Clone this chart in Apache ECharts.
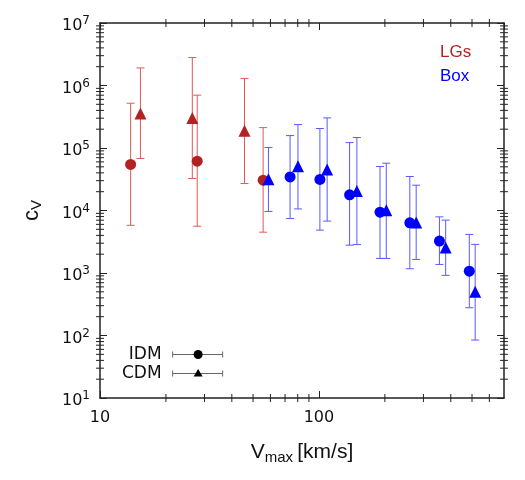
<!DOCTYPE html>
<html>
<head>
<meta charset="utf-8">
<script src="https://cdn.jsdelivr.net/npm/echarts@6/dist/echarts.min.js"></script>
<style>
  html, body { margin: 0; padding: 0; background: #fff; }
  #chart { width: 525px; height: 480px; }
</style>
</head>
<body>
<div id="chart"></div>
<script>
// LGs, IDM (circles)
const lgIdmV = [13.8, 27.8, 55.6];
const lgIdmC = [54500, 61500, 30500];
const lgIdmLo = [5800, 5600, 4500];
const lgIdmHi = [520000, 700000, 212000];
// LGs, CDM (triangles)
const lgCdmV = [15.3, 26.4, 45.7];
const lgCdmC = [356000, 303000, 188000];
const lgCdmLo = [68000, 32500, 27000];
const lgCdmHi = [1910000, 2800000, 1290000];
// Box, IDM (circles)
const boxIdmV = [73.8, 101, 138, 190, 260, 355, 486];
const boxIdmC = [34500, 31400, 17800, 9400, 6350, 3240, 1070];
const boxIdmLo = [7460, 4850, 2790, 1710, 1170, 1370, 278];
const boxIdmHi = [158000, 205000, 122000, 50600, 35000, 7910, 4140];
// Box, CDM (triangles)
const boxCdmV = [58.8, 80.2, 109, 149, 203, 278, 379, 517];
const boxCdmC = [31700, 51200, 45300, 20600, 10100, 6440, 2570, 501];
const boxCdmLo = [9660, 10600, 6760, 2850, 1710, 1650, 916, 84.6];
const boxCdmHi = [102000, 237000, 303000, 147000, 57100, 25400, 7010, 2870];

// axis ranges and minor tick positions
const xRange = [10, 700];
const yRange = [10, 1e7];
const xMinor = [20, 30, 40, 50, 60, 70, 80, 90, 200, 300, 400, 500, 600];
const yMantissa = [2, 3, 4, 5, 6, 7, 8, 9];
const yDecades = [10, 100, 1000, 10000, 100000, 1000000];
const yMinor = [];
yDecades.forEach(d => yMantissa.forEach(m => yMinor.push(m * d)));

const RED = '#b22222', RED_BAR = '#dc5a5a';
const BLUE = '#0000ff', BLUE_BAR = '#5a5aff';
const AXIS = '#222';

const chart = echarts.init(document.getElementById('chart'));

function pts(v, c) { return v.map((x, i) => [x, c[i]]); }
function bars(v, c, lo, hi) { return v.map((x, i) => [x, c[i], lo[i], hi[i]]); }

function errorBar(color) {
  return function (params, api) {
    const lo = api.coord([api.value(0), api.value(2)]);
    const hi = api.coord([api.value(0), api.value(3)]);
    const w = 4;
    const style = { stroke: color, lineWidth: 1 };
    return {
      type: 'group',
      children: [
        { type: 'line', shape: { x1: lo[0], y1: lo[1], x2: hi[0], y2: hi[1] }, style },
        { type: 'line', shape: { x1: lo[0] - w, y1: lo[1], x2: lo[0] + w, y2: lo[1] }, style },
        { type: 'line', shape: { x1: hi[0] - w, y1: hi[1], x2: hi[0] + w, y2: hi[1] }, style }
      ]
    };
  };
}

// minor ticks drawn as thin rect symbols sitting on the frame edges
function minorTicks(data, size, offset) {
  return {
    type: 'scatter', silent: true, symbol: 'rect', symbolSize: size, symbolOffset: offset,
    itemStyle: { color: AXIS, opacity: 1 }, z: 5, data
  };
}

const tickStyle = { show: true, inside: true, length: 7, lineStyle: { color: AXIS, width: 1 } };
const lineStyle = { show: true, lineStyle: { color: AXIS, width: 1.5 } };

const option = {
  animation: false,
  backgroundColor: '#fff',
  grid: { left: 100, right: 21, top: 23, bottom: 82, containLabel: false },
  xAxis: [
    {
      type: 'log', logBase: 10, min: xRange[0], max: xRange[1],
      axisLine: lineStyle, axisTick: tickStyle, splitLine: { show: false },
      axisLabel: {
        margin: 12, showMaxLabel: false, color: '#111',
        fontFamily: 'DejaVu Sans', fontSize: 16,
        formatter: v => String(Math.round(v))
      },
      name: '{v|V}{s|max }{v|[km/s]}',
      nameLocation: 'middle', nameGap: 42,
      nameTextStyle: {
        rich: {
          v: { fontFamily: 'Liberation Sans', fontSize: 21, color: '#111' },
          s: { fontFamily: 'Liberation Sans', fontSize: 15, color: '#111', padding: [10, 0, 0, 0] }
        }
      }
    },
    {
      type: 'log', logBase: 10, min: xRange[0], max: xRange[1], position: 'top',
      axisLine: lineStyle, axisTick: tickStyle, axisLabel: { show: false }, splitLine: { show: false }
    }
  ],
  yAxis: [
    {
      type: 'log', logBase: 10, min: yRange[0], max: yRange[1], splitNumber: 6,
      axisLine: lineStyle, axisTick: tickStyle, splitLine: { show: false },
      axisLabel: {
        margin: 10, color: '#111',
        formatter: v => '{b|10}{s|' + Math.round(Math.log10(v)) + '}',
        rich: {
          b: { fontFamily: 'DejaVu Sans', fontSize: 16, color: '#111', padding: [6, 0, 0, 0] },
          s: { fontFamily: 'DejaVu Sans', fontSize: 12, color: '#111', padding: [0, 0, 4, 0] }
        }
      },
      name: '{c|c}{s|V}',
      nameLocation: 'middle', nameGap: 56,
      nameTextStyle: {
        rich: {
          c: { fontFamily: 'Liberation Sans', fontSize: 22, color: '#111' },
          s: { fontFamily: 'Liberation Sans', fontSize: 15, color: '#111', padding: [10, 0, 0, 0] }
        }
      }
    },
    {
      type: 'log', logBase: 10, min: yRange[0], max: yRange[1], splitNumber: 6, position: 'right',
      axisLine: lineStyle, axisTick: tickStyle, axisLabel: { show: false }, splitLine: { show: false }
    }
  ],
  graphic: [
    { type: 'text', left: 440, top: 44, style: { text: 'LGs', fill: RED, font: '17px "Liberation Sans"' } },
    { type: 'text', left: 440, top: 68, style: { text: 'Box', fill: BLUE, font: '17px "Liberation Sans"' } },
    {
      type: 'group', left: 122, top: 346,
      children: [
        { type: 'text', x: 38, y: 10, style: { text: 'IDM', fill: '#111', font: '17px "DejaVu Sans"', align: 'right', verticalAlign: 'middle' } },
        { type: 'line', shape: { x1: 49, y1: 10, x2: 99, y2: 10 }, style: { stroke: '#666', lineWidth: 1 } },
        { type: 'line', shape: { x1: 49, y1: 7, x2: 49, y2: 13 }, style: { stroke: '#666', lineWidth: 1 } },
        { type: 'line', shape: { x1: 99, y1: 7, x2: 99, y2: 13 }, style: { stroke: '#666', lineWidth: 1 } },
        { type: 'circle', shape: { cx: 74.5, cy: 10, r: 4.5 }, style: { fill: '#000' } },
        { type: 'text', x: 38, y: 29, style: { text: 'CDM', fill: '#111', font: '17px "DejaVu Sans"', align: 'right', verticalAlign: 'middle' } },
        { type: 'line', shape: { x1: 49, y1: 29, x2: 99, y2: 29 }, style: { stroke: '#666', lineWidth: 1 } },
        { type: 'line', shape: { x1: 49, y1: 26, x2: 49, y2: 32 }, style: { stroke: '#666', lineWidth: 1 } },
        { type: 'line', shape: { x1: 99, y1: 26, x2: 99, y2: 32 }, style: { stroke: '#666', lineWidth: 1 } },
        { type: 'polygon', shape: { points: [[74.5, 24.5], [79, 32], [70, 32]] }, style: { fill: '#000' } }
      ]
    }
  ],
  series: [
    minorTicks(xMinor.map(v => [v, yRange[0]]), [1, 8], [0, 0]),
    minorTicks(xMinor.map(v => [v, yRange[1]]), [1, 8], [0, 0]),
    minorTicks(yMinor.map(v => [xRange[0], v]), [8, 1], [0, 0]),
    minorTicks(yMinor.map(v => [xRange[1], v]), [8, 1], [0, 0]),
    { name: 'LGs err', type: 'custom', renderItem: errorBar(RED_BAR), data: bars(lgIdmV, lgIdmC, lgIdmLo, lgIdmHi), encode: { x: 0, y: [1, 2, 3] }, silent: true },
    { name: 'LGs err', type: 'custom', renderItem: errorBar(RED_BAR), data: bars(lgCdmV, lgCdmC, lgCdmLo, lgCdmHi), encode: { x: 0, y: [1, 2, 3] }, silent: true },
    { name: 'LGs IDM', type: 'scatter', symbol: 'circle', symbolSize: 11, itemStyle: { color: RED, opacity: 1 }, data: pts(lgIdmV, lgIdmC) },
    { name: 'LGs CDM', type: 'scatter', symbol: 'triangle', symbolSize: 12, itemStyle: { color: RED, opacity: 1 }, data: pts(lgCdmV, lgCdmC) },
    { name: 'Box err', type: 'custom', renderItem: errorBar(BLUE_BAR), data: bars(boxIdmV, boxIdmC, boxIdmLo, boxIdmHi), encode: { x: 0, y: [1, 2, 3] }, silent: true },
    { name: 'Box err', type: 'custom', renderItem: errorBar(BLUE_BAR), data: bars(boxCdmV, boxCdmC, boxCdmLo, boxCdmHi), encode: { x: 0, y: [1, 2, 3] }, silent: true },
    { name: 'Box IDM', type: 'scatter', symbol: 'circle', symbolSize: 11, itemStyle: { color: BLUE, opacity: 1 }, data: pts(boxIdmV, boxIdmC) },
    { name: 'Box CDM', type: 'scatter', symbol: 'triangle', symbolSize: 12, itemStyle: { color: BLUE, opacity: 1 }, data: pts(boxCdmV, boxCdmC) }
  ]
};

chart.setOption(option);
</script>
</body>
</html>
